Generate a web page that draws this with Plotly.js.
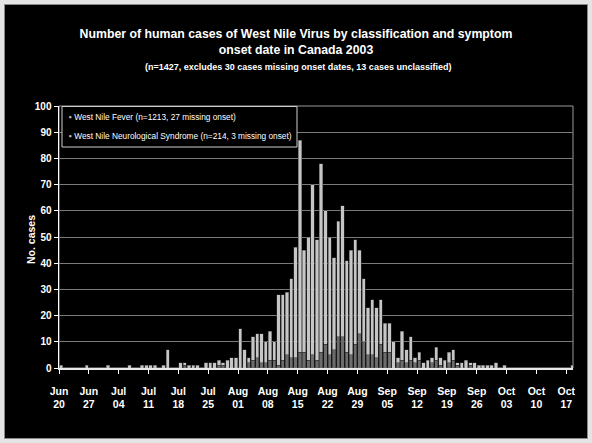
<!DOCTYPE html>
<html>
<head>
<meta charset="utf-8">
<script src="https://cdn.plot.ly/plotly-3.0.1.min.js"></script>
<style>
  html, body { margin:0; padding:0; background:#ffffff; }
  #wrap { position:absolute; left:0; top:0; width:592px; height:443px; }
  #chart { position:absolute; left:0; top:0; width:592px; height:443px; }
  #frame { position:absolute; left:0; top:0; width:592px; height:443px; box-sizing:border-box;
           border:4px solid #e4e4e4; box-shadow: inset 0 0 0 1px #8a8a8a; pointer-events:none; }
</style>
</head>
<body>
<div id="wrap"><div id="chart"></div><div id="frame"></div></div>
<script>
// ---- data (daily counts by symptom onset date, starting 2003-06-20) ----
const startYear = 2003, startMonth = 6, startDay = 20;   // Jun 20, 2003
const fever = [
  1,0,0,0,0,0,1,0,0,0,
  0,1,0,0,0,0,1,0,0,1,
  1,1,1,0,1,7,0,0,2,1,
  1,1,1,0,2,2,2,2,1,3,
  4,4,15,7,2,9,9,11,8,11,
  7,27,25,24,30,42,81,39,47,65,
  46,72,51,45,35,44,50,35,40,40,
  32,24,18,21,19,17,11,11,10,2,
  11,5,9,2,3,2,3,2,5,3,
  3,4,4,1,2,3,1,2,1,1,
  1,1,2,0,1,0,0,0,0,0,
  0,0,0,0,0,0,0,0,0,0,
  1
];
const neuro = [
  0,0,0,0,0,0,0,0,0,0,
  0,0,0,0,0,0,0,0,0,0,
  0,0,0,0,0,0,0,0,0,1,
  0,0,0,0,0,0,0,1,1,0,
  0,0,0,0,2,3,4,2,2,3,
  3,1,3,5,4,4,6,6,3,5,
  3,6,9,5,7,12,12,6,5,9,
  13,10,5,5,4,9,6,6,0,2,
  3,2,3,2,3,0,0,2,3,1,
  0,2,3,1,0,0,1,0,0,0,
  0,0,0,0,0,0,0,0,0,0,
  0,0,0,0,0,0,0,0,0,0,
  0
];
const seriesNames = [
  'West Nile Fever (n=1213, 27 missing onset)',
  'West Nile Neurological Syndrome (n=214, 3 missing onset)'
];
const tickDates = ['2003-06-20','2003-06-27','2003-07-04','2003-07-11','2003-07-18','2003-07-25',
  '2003-08-01','2003-08-08','2003-08-15','2003-08-22','2003-08-29','2003-09-05','2003-09-12',
  '2003-09-19','2003-09-26','2003-10-03','2003-10-10','2003-10-17'];
const tickLabels = ['Jun<br>20','Jun<br>27','Jul<br>04','Jul<br>11','Jul<br>18','Jul<br>25',
  'Aug<br>01','Aug<br>08','Aug<br>15','Aug<br>22','Aug<br>29','Sep<br>05','Sep<br>12',
  'Sep<br>19','Sep<br>26','Oct<br>03','Oct<br>10','Oct<br>17'];
const yTicks = [0,10,20,30,40,50,60,70,80,90,100];
const titleLines = ['Number of human cases of West Nile Virus by classification and symptom',
  'onset date in Canada 2003'];
const subtitle = '(n=1427, excludes 30 cases missing onset dates, 13 cases unclassified)';
const yTitle = 'No. cases';

// ---- build ----
function dayDate(i) {
  const d = new Date(Date.UTC(startYear, startMonth - 1, startDay + i, 12));
  return d.toISOString().slice(0,10) + ' 12:00';
}
const xDates = fever.map((_, i) => dayDate(i));

const FONT = "'Liberation Sans', Arial, sans-serif";
const FEVER_C = '#c6c6c6', NEURO_C = '#6c6c6c';

const traces = [
  { type:'bar', name: seriesNames[1], x: xDates, y: neuro, showlegend:false,
    marker:{ color: NEURO_C, line:{ color:'#2a2a2a', width:0.5 } }, hoverinfo:'x+y' },
  { type:'bar', name: seriesNames[0], x: xDates, y: fever, showlegend:false,
    marker:{ color: FEVER_C, line:{ color:'#3a3a3a', width:0.5 } }, hoverinfo:'x+y' }
];

const L = 59, R = 573, T = 106, B = 368;
const px = (x) => (x - L) / (R - L);
const py = (y) => (B - y) / (B - T);

const layout = {
  width: 592, height: 443,
  margin: { l: L, r: 592 - R, t: T, b: 443 - B, pad: 0 },
  paper_bgcolor: '#000000',
  plot_bgcolor: '#000000',
  barmode: 'stack',
  bargap: 0.22,
  showlegend: false,
  font: { family: FONT, color: '#ffffff' },
  title: {
    text: titleLines.join('<br>'),
    font: { family: FONT, size: 12.3, color: '#ffffff', weight: 'bold' },
    x: 0.5, xref: 'container', xanchor: 'center',
    y: 1 - 38 / 443, yref: 'container', yanchor: 'top'
  },
  xaxis: {
    type: 'date',
    range: ['2003-06-20 00:00', '2003-10-18 14:00'],
    tickmode: 'array', tickvals: tickDates, ticktext: tickLabels,
    tickfont: { family: FONT, size: 10.5, color: '#ffffff', weight: 'bold' },
    ticks: 'outside', ticklen: 4, tickcolor: '#ffffff', tickwidth: 1,
    ticklabelstandoff: 8,
    showline: true, linecolor: '#e8e8e8', linewidth: 2,
    showgrid: false, zeroline: false, fixedrange: true
  },
  yaxis: {
    range: [0, 100],
    tickmode: 'array', tickvals: yTicks,
    tickfont: { family: FONT, size: 10, color: '#ffffff', weight: 'bold' },
    ticks: 'outside', ticklen: 4, tickcolor: '#ffffff', tickwidth: 1,
    showline: true, linecolor: '#ffffff', linewidth: 1.5,
    showgrid: true, gridcolor: '#7a7a7a', gridwidth: 1,
    zeroline: false, fixedrange: true
  },
  shapes: [
    { type:'rect', xref:'paper', yref:'paper', x0:0, x1:1, y0:0, y1:1,
      line:{ color:'#9a9a9a', width:1 }, fillcolor:'rgba(0,0,0,0)', layer:'below' },
    // legend box
    { type:'rect', xref:'paper', yref:'paper', x0: px(62), x1: px(297), y0: py(147), y1: py(106.5),
      line:{ color:'#cfcfcf', width:1 }, fillcolor:'#000000', layer:'above' }
  ],
  annotations: [
    { text: '<b>' + subtitle + '</b>', xref:'paper', yref:'paper', x: px(297.5), y: py(67),
      xanchor:'center', yanchor:'middle', showarrow:false,
      font:{ family: FONT, size: 9, color:'#ffffff' } },
    { text: '<b>' + yTitle + '</b>', xref:'paper', yref:'paper', x: px(31), y: py(240),
      xanchor:'center', yanchor:'middle', textangle: -90, showarrow:false,
      font:{ family: FONT, size: 10.5, color:'#ffffff' } },
    { text: '<span style="color:' + FEVER_C + '">▪</span> ' + seriesNames[0],
      xref:'paper', yref:'paper', x: px(67), y: py(116.7), xanchor:'left', yanchor:'middle',
      showarrow:false, font:{ family: FONT, size: 8.3, color:'#ffffff' } },
    { text: '<span style="color:' + FEVER_C + '">▪</span> ' + seriesNames[1],
      xref:'paper', yref:'paper', x: px(67), y: py(136), xanchor:'left', yanchor:'middle',
      showarrow:false, font:{ family: FONT, size: 8.3, color:'#ffffff' } }
  ]
};

Plotly.newPlot('chart', traces, layout, { staticPlot: true, displayModeBar: false });
</script>
</body>
</html>
